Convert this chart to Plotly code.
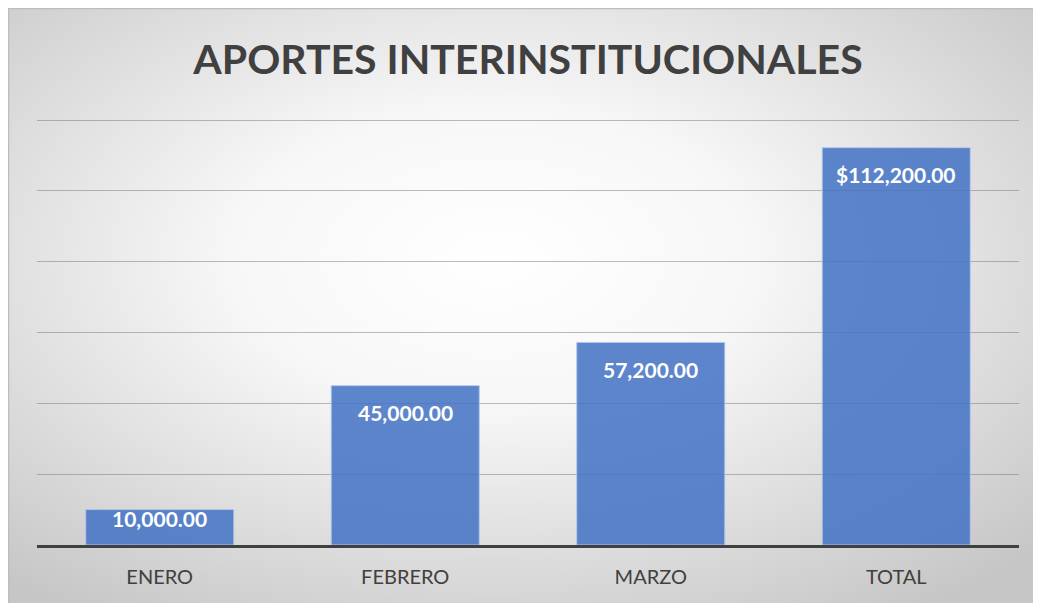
import base64
import plotly.graph_objects as go

categories = ["ENERO", "FEBRERO", "MARZO", "TOTAL"]
values = [10000, 45000, 57200, 112200]
label_prefix = ["", "", "", "$"]
title_text = "APORTES INTERINSTITUCIONALES"

# figure is placed by the page at an 8px offset (body margin)
W, H = 1033, 595
L, R, T, B = 29, 22, 111, 58
plot_w = W - L - R
plot_h = H - T - B
ymax = 120300

svg = f'''<svg xmlns="http://www.w3.org/2000/svg" width="{W}" height="{H}" viewBox="0 0 {W} {H}" preserveAspectRatio="none">
<defs><radialGradient id="g" cx="0.47" cy="0.42" r="0.72" gradientUnits="objectBoundingBox">
<stop offset="0" stop-color="#ffffff"/><stop offset="0.35" stop-color="#f7f7f7"/><stop offset="1" stop-color="#c6c6c6"/>
</radialGradient></defs>
<rect x="0" y="0" width="{W}" height="{H}" fill="url(#g)"/>
<rect x="0.5" y="0.5" width="{W + 10}" height="{H + 10}" fill="none" stroke="#bdbdbd" stroke-width="1.5"/>
</svg>'''
src = "data:image/svg+xml;base64," + base64.b64encode(svg.encode()).decode()

fig = go.Figure()
fig.add_trace(go.Bar(
    x=categories, y=values,
    marker=dict(color="rgba(68,114,196,0.86)", line=dict(color="rgba(180,200,235,0.9)", width=1)),
    hoverinfo="skip",
))

annotations = []
for c, v, p in zip(categories, values, label_prefix):
    bar_px = v / ymax * plot_h
    shift = -27 if bar_px > 60 else -9
    annotations.append(dict(
        x=c, y=v, xref="x", yref="y", text=f"<b>{p}{v:,.2f}</b>", showarrow=False,
        yanchor="middle", yshift=shift,
        font=dict(family="Lato, Open Sans, sans-serif", size=21, color="white"),
    ))

fig.update_layout(
    width=W, height=H,
    margin=dict(l=L, r=R, t=T, b=B),
    paper_bgcolor="white",
    plot_bgcolor="rgba(0,0,0,0)",
    bargap=0.397,
    showlegend=False,
    title=dict(text="<b>" + title_text + "</b>", x=520 / W, xanchor="center", y=1 - 52 / H, yanchor="middle",
               font=dict(family="Lato, Open Sans, sans-serif", size=41, color="#404040")),
    annotations=annotations,
    images=[dict(source=src, xref="paper", yref="paper",
                 x=-L / plot_w, y=(H - B) / plot_h,
                 sizex=W / plot_w, sizey=H / plot_h,
                 xanchor="left", yanchor="top", sizing="stretch", layer="below")],
    xaxis=dict(showline=True, linecolor="#404040", linewidth=3, ticks="", showgrid=False,
               tickfont=dict(family="Lato, Open Sans, sans-serif", size=20, color="#404040"),
               ticklabelstandoff=12),
    yaxis=dict(range=[0, ymax], dtick=20000, showticklabels=False, showgrid=True,
               gridcolor="rgba(120,120,120,0.5)", gridwidth=1, zeroline=False, fixedrange=True),
)

fig.write_html("out.html")
